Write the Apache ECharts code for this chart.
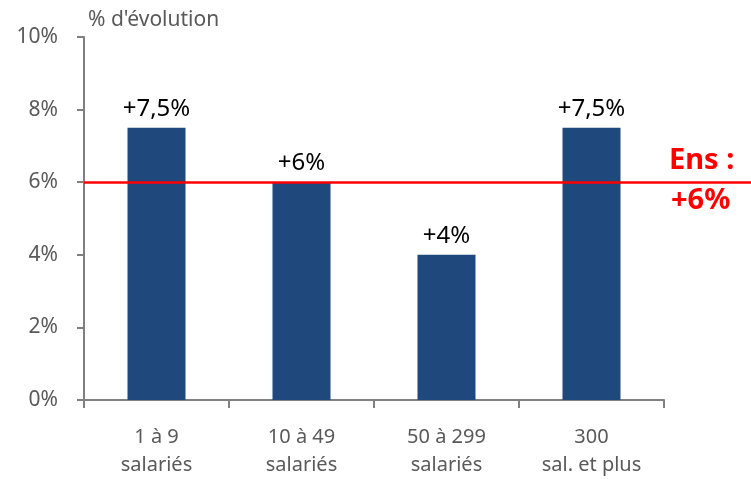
<!DOCTYPE html>
<html><head><meta charset="utf-8">
<script src="https://cdn.jsdelivr.net/npm/echarts@6/dist/echarts.min.js"></script>
<style>html,body{margin:0;padding:0;background:#fff}#c{width:751px;height:479px}</style>
</head><body><div id="c"></div>
<script>
const categories = ['1 à 9\nsalariés', '10 à 49\nsalariés', '50 à 299\nsalariés', '300\nsal. et plus'];
const values = [7.5, 6, 4, 7.5];
const valueLabels = ['+7,5%', '+6%', '+4%', '+7,5%'];
const ensValue = 6;
const ensLabel = ['Ens :', '+6%'];
const yTicks = [0, 2, 4, 6, 8, 10];

const font = 'Noto Sans';
const chart = echarts.init(document.getElementById('c'));
chart.setOption({
  animation: false,
  textStyle: {fontFamily: font},
  grid: [
    {left: 84, right: 87, top: 37, bottom: 78},
    {left: 84, right: 0, top: 37, bottom: 78}
  ],
  xAxis: [
    {type: 'category', gridIndex: 0, data: categories,
     axisLine: {lineStyle: {color: '#808080', width: 2}},
     axisTick: {show: true, length: 8, lineStyle: {color: '#808080', width: 2}},
     axisLabel: {color: '#595959', fontSize: 20, margin: 23, lineHeight: 28, fontFamily: font}},
    {type: 'value', gridIndex: 1, min: 0, max: 1, show: false}
  ],
  yAxis: [
    {type: 'value', gridIndex: 0, min: 0, max: 10, interval: 2,
     name: "% d'évolution", nameLocation: 'end', nameGap: 6,
     nameTextStyle: {color: '#595959', fontSize: 21, align: 'left', padding: [0, 0, 0, 4], fontFamily: font},
     axisLine: {show: true, lineStyle: {color: '#808080', width: 2}},
     axisTick: {show: true, length: 7, lineStyle: {color: '#808080', width: 2}},
     splitLine: {show: false},
     axisLabel: {color: '#595959', fontSize: 21, margin: 26, fontFamily: font,
       formatter: v => yTicks.includes(v) ? v + '%' : ''}},
    {type: 'value', gridIndex: 1, min: 0, max: 10, show: false}
  ],
  series: [
    {type: 'bar', xAxisIndex: 0, yAxisIndex: 0, data: values, barWidth: 58,
     itemStyle: {color: '#1f497d'}, z: 2,
     label: {show: true, position: 'top', distance: 7, color: '#000', fontSize: 24, fontFamily: font,
       formatter: p => valueLabels[p.dataIndex]}},
    {type: 'line', xAxisIndex: 1, yAxisIndex: 1, data: [[0, ensValue], [1, ensValue]],
     symbol: 'none', lineStyle: {color: '#ff0000', width: 2.5}, z: 5, silent: true}
  ],
  graphic: [
    {type: 'text', left: 669, top: 146, style: {text: ensLabel[0], fill: '#ff0000', font: 'bold 29px "Noto Sans"'}},
    {type: 'text', left: 671, top: 186, style: {text: ensLabel[1], fill: '#ff0000', font: 'bold 29px "Noto Sans"'}}
  ]
});
</script></body></html>
